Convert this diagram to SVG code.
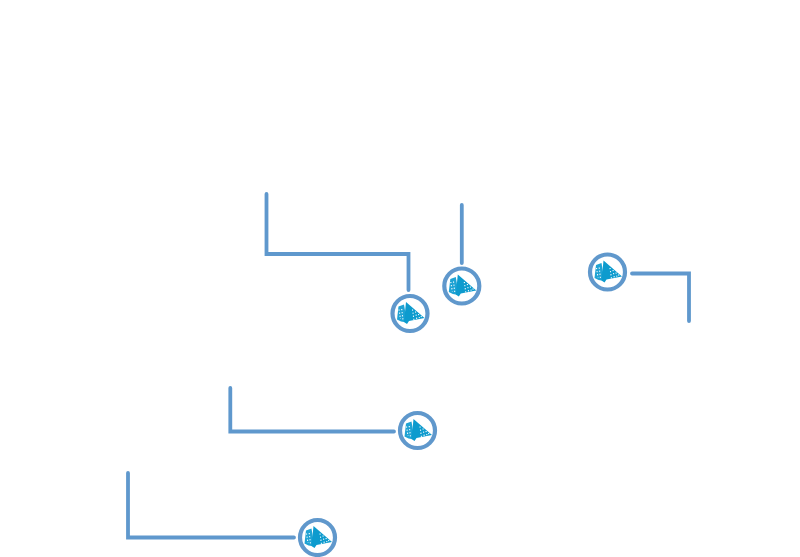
<svg xmlns="http://www.w3.org/2000/svg" xmlns:xlink="http://www.w3.org/1999/xlink" width="800" height="557" viewBox="0 0 800 557">
<style>
.c{fill:none;stroke:#5f98cd;stroke-width:3.8;stroke-linejoin:miter;stroke-linecap:round}
.ring{fill:#fff;stroke:#6098cc;stroke-width:4.2}
.b{fill:#0d9bce}
.l{fill:#1fa3d4}
.w{fill:none;stroke:#fff;stroke-width:1.1;stroke-dasharray:1.2 1.9}
</style>
<defs>
<g id="icon">
<circle class="ring" r="17.500"/>
<path class="l" d="M-11.500-7-6-9-3 9-9 8-13 6Z"/>
<path class="b" d="M-4-11.500 14.500 4.500-1 7.500-3 10.500-6 8.500Z"/>
<path class="w" d="M-11-4-9.500 5.500M-8.300-4.500-7 6.500"/>
<path class="w" d="M2.500-4 4 6.500M5.500-2 6.800 5.700M8.500.5 9.500 5.200M11 2.500 11.800 4.500"/>
</g>
</defs>
<g id="connectors">
<path class="c" d="M266.500 194V254H408.500V290"/>
<path class="c" d="M461.800 205V263"/>
<path class="c" d="M632 273.500H689V321"/>
<path class="c" d="M230.300 388V431.500H394"/>
<path class="c" d="M128 473V537.500H294"/>
</g>
<g id="n1"><use xlink:href="#icon" href="#icon" x="410" y="313.500"/></g>
<g id="n2"><use xlink:href="#icon" href="#icon" x="461.800" y="286"/></g>
<g id="n3"><use xlink:href="#icon" href="#icon" x="607.500" y="272"/></g>
<g id="n4"><use xlink:href="#icon" href="#icon" x="417.500" y="430.500"/></g>
<g id="n5"><use xlink:href="#icon" href="#icon" x="317.500" y="537.500"/></g>
</svg>
